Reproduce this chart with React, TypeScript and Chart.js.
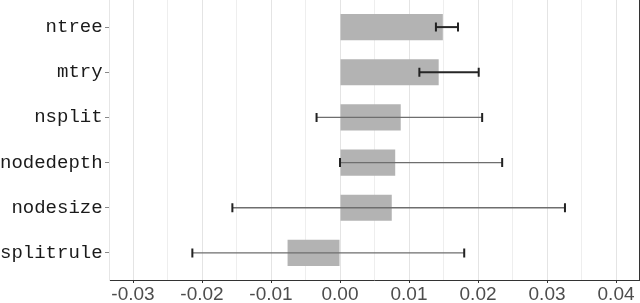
import React, { useEffect, useRef } from "react";
import { Chart, registerables } from "chart.js";

Chart.register(...registerables);

const variables = ["ntree", "mtry", "nsplit", "nodedepth", "nodesize", "splitrule"];
const importance = [0.0149, 0.0143, 0.0088, 0.008, 0.0075, -0.0076];
const ciLower = [0.0139, 0.0115, -0.0034, 0.0, -0.0156, -0.0214];
const ciUpper = [0.0171, 0.0201, 0.0206, 0.0235, 0.0326, 0.018];
const xTickValues = [-0.03, -0.02, -0.01, 0, 0.01, 0.02, 0.03, 0.04];
const xMin = -0.03348;
const xMax = 0.04333;

const errorBarPlugin = {
  id: "errorBars",
  afterDatasetsDraw(chart: any) {
    const { ctx } = chart;
    const xs = chart.scales.x;
    const ys = chart.scales.y;
    ctx.save();
    variables.forEach((_, i) => {
      const yp = ys.getPixelForValue(i + 1);
      const x1 = xs.getPixelForValue(ciLower[i]);
      const x2 = xs.getPixelForValue(ciUpper[i]);
      const significant = ciLower[i] > 0;
      ctx.beginPath();
      ctx.strokeStyle = significant ? "#262626" : "#6e6e6e";
      ctx.lineWidth = significant ? 2 : 1.3;
      ctx.moveTo(x1, yp);
      ctx.lineTo(x2, yp);
      ctx.stroke();
      ctx.beginPath();
      ctx.strokeStyle = "#222222";
      ctx.lineWidth = 2;
      [x1, x2].forEach((xx) => {
        ctx.moveTo(xx, yp - 4.5);
        ctx.lineTo(xx, yp + 4.5);
      });
      ctx.stroke();
    });
    ctx.restore();
  },
};

export default function App() {
  const ref = useRef<HTMLCanvasElement | null>(null);

  useEffect(() => {
    document.body.style.margin = "0";
    if (!ref.current) return;
    const minorTicks = xTickValues.map((v) => v + 0.005).filter((v) => v < xMax);
    const allTicks = [...xTickValues, ...minorTicks].sort((a, b) => a - b);
    const isMajor = (v: number) => xTickValues.some((t) => Math.abs(t - v) < 1e-9);

    const chart: any = new Chart(ref.current, {
      type: "bar",
      data: {
        datasets: [
          {
            data: importance.map((v, i) => ({ x: v, y: i + 1 })),
            backgroundColor: "#b3b3b3",
            borderWidth: 0,
            categoryPercentage: 1,
            barPercentage: 0.58,
          },
        ],
      },
      options: {
        indexAxis: "y",
        animation: false,
        responsive: true,
        maintainAspectRatio: false,
        layout: { padding: { top: 0, right: 1, left: 0, bottom: 0 } },
        plugins: { legend: { display: false }, tooltip: { enabled: false } },
        scales: {
          x: {
            type: "linear",
            min: xMin,
            max: xMax,
            afterBuildTicks: (axis: any) => {
              axis.ticks = allTicks.map((v) => ({ value: v }));
            },
            afterFit: (axis: any) => {
              axis.height = 23;
            },
            ticks: {
              autoSkip: false,
              maxRotation: 0,
              padding: 4,
              color: "#4d4d4d",
              font: { family: "'Liberation Sans', Arial, sans-serif", size: 19, lineHeight: 0.842 },
              callback: (v: any) => (isMajor(Number(v)) ? Number(v).toFixed(2) : ""),
            },
            grid: {
              color: (c: any) => (isMajor(c.tick?.value ?? 0) ? "#e4e4e4" : "#eeeeee"),
              lineWidth: 1,
              drawTicks: true,
              tickLength: 3,
              tickColor: (c: any) => (isMajor(c.tick?.value ?? 0) ? "#333333" : "rgba(0,0,0,0)"),
            },
            border: { display: true, color: "#333333", width: 1 },
          },
          y: {
            type: "linear",
            reverse: true,
            offset: false,
            min: 0.4,
            max: 6.6,
            afterBuildTicks: (axis: any) => {
              axis.ticks = variables.map((_, i) => ({ value: i + 1 }));
            },
            afterFit: (axis: any) => {
              axis.width = 109;
              axis.paddingTop = 0;
              axis.paddingBottom = 0;
            },
            ticks: {
              autoSkip: false,
              padding: 2.4,
              color: "#1a1a1a",
              font: { family: "'Liberation Mono', 'Courier New', monospace", size: 19 },
              callback: (v: any) => variables[Number(v) - 1] ?? "",
            },
            grid: {
              offset: false,
              drawOnChartArea: false,
              drawTicks: true,
              tickLength: 4,
              tickColor: "#888888",
            },
            border: { display: true, color: "#e6e6e6", width: 1 },
          },
          yRight: {
            type: "linear",
            position: "right",
            offset: false,
            min: 0.4,
            max: 6.6,
            afterFit: (axis: any) => {
              axis.paddingTop = 0;
              axis.paddingBottom = 0;
            },
            ticks: { display: false },
            grid: { display: false, drawTicks: false },
            border: { display: true, color: "#333333", width: 1 },
          },
        },
      },
      plugins: [errorBarPlugin],
    } as any);
    return () => chart.destroy();
  }, []);

  return (
    <div style={{ width: 640, height: 303, position: "relative" }}>
      <canvas ref={ref} />
    </div>
  );
}
